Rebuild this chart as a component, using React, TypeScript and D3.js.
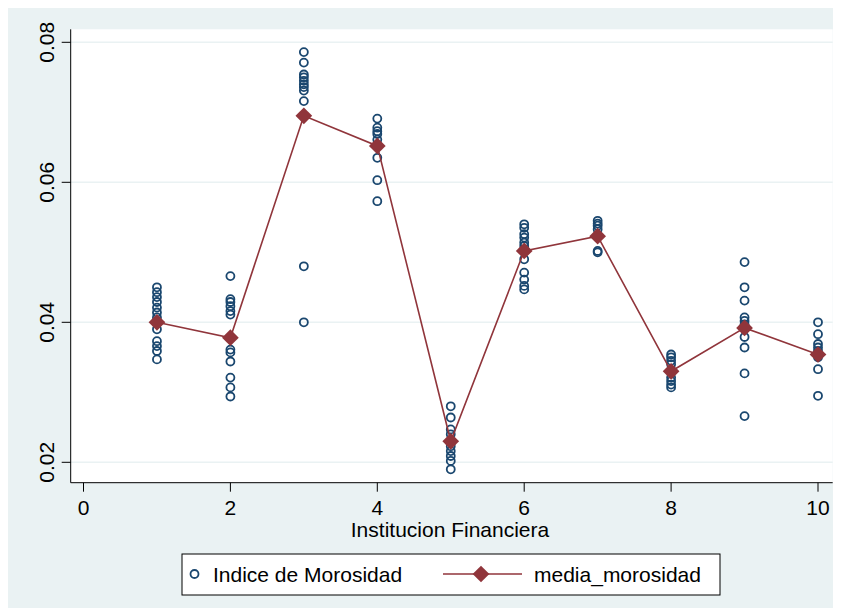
import React from "react";
import { scaleLinear, line, symbol, symbolSquare } from "d3";

// indice de morosidad observado, una fila por institucion (1..10)
const instituciones = [1, 2, 3, 4, 5, 6, 7, 8, 9, 10];
const indiceMorosidad = [
  [0.045, 0.0443, 0.0436, 0.0429, 0.0421, 0.0414, 0.0407, 0.039, 0.0373, 0.0366, 0.0359, 0.0347],
  [0.0466, 0.0433, 0.0429, 0.0423, 0.0416, 0.0411, 0.0361, 0.0357, 0.0344, 0.0321, 0.0307, 0.0294],
  [0.0786, 0.0771, 0.0754, 0.075, 0.0745, 0.074, 0.0736, 0.0731, 0.0716, 0.048, 0.04],
  [0.0691, 0.0678, 0.0673, 0.0669, 0.0661, 0.0652, 0.0635, 0.0603, 0.0573],
  [0.028, 0.0264, 0.0247, 0.024, 0.023, 0.0223, 0.0216, 0.0209, 0.0202, 0.019],
  [0.054, 0.0535, 0.0526, 0.0521, 0.0514, 0.0509, 0.0502, 0.049, 0.0471, 0.0461, 0.0452, 0.0447],
  [0.0545, 0.0541, 0.0538, 0.0533, 0.0523, 0.0502, 0.05],
  [0.0354, 0.035, 0.0345, 0.034, 0.033, 0.0321, 0.0316, 0.0311, 0.0307],
  [0.0486, 0.045, 0.0431, 0.0407, 0.0402, 0.0397, 0.0379, 0.0364, 0.0327, 0.0266],
  [0.04, 0.0383, 0.0369, 0.0364, 0.0359, 0.0354, 0.035, 0.0333, 0.0295],
];
const mediaMorosidad = [0.04, 0.0378, 0.0695, 0.0652, 0.023, 0.0502, 0.0523, 0.033, 0.0392, 0.0354];

const xTicks = [0, 2, 4, 6, 8, 10];
const yTicks = [0.02, 0.04, 0.06, 0.08];

const BG = "#eaf2f3";
const NAVY = "#1a476f";
const MAROON = "#90353b";
const FONT = "'Liberation Sans', Arial, sans-serif";

export default function App() {
  // page coordinates (svg sits at the 8px body margin)
  const plot = { left: 70.7, right: 832.7, top: 29.3, bottom: 482.7 };

  const x = scaleLinear().domain([0, 10]).range([83.5, 818]);
  const y = scaleLinear().domain([0.02, 0.08]).range([462.3, 42.3]);

  const path = line<number>()
    .x((d, i) => x(instituciones[i]))
    .y((d) => y(d))(mediaMorosidad);

  // square diamond = square turned 45deg
  const diamond = symbol().type(symbolSquare).size(140)();

  const fmt = (v: number) => v.toFixed(2);

  return (
    <svg width={833} height={600} viewBox="8 8 833 600" style={{ display: "block" }}>
      <rect x={8} y={8} width={833} height={600} fill={BG} />
      <rect
        x={plot.left}
        y={plot.top}
        width={plot.right - plot.left}
        height={plot.bottom - plot.top}
        fill="#ffffff"
      />
      {/* grid */}
      {yTicks.map((t) => (
        <line key={"g" + t} x1={plot.left} x2={plot.right} y1={y(t)} y2={y(t)} stroke={BG} strokeWidth={1.6} />
      ))}

      {/* axes */}
      <line x1={plot.left} x2={plot.left} y1={plot.top} y2={plot.bottom} stroke="#000" strokeWidth={1} />
      <line x1={plot.left} x2={plot.right} y1={plot.bottom} y2={plot.bottom} stroke="#000" strokeWidth={1} />
      {yTicks.map((t) => (
        <g key={"y" + t}>
          <line x1={plot.left - 9} x2={plot.left} y1={y(t)} y2={y(t)} stroke="#000" strokeWidth={1} />
          <text
            transform={`translate(53.5,${y(t)}) rotate(-90)`}
            textAnchor="middle"
            fontFamily={FONT}
            fontSize={21}
            fill="#000"
          >
            {fmt(t)}
          </text>
        </g>
      ))}
      {xTicks.map((t) => (
        <g key={"x" + t}>
          <line x1={x(t)} x2={x(t)} y1={plot.bottom} y2={plot.bottom + 9} stroke="#000" strokeWidth={1} />
          <text x={x(t)} y={515} textAnchor="middle" fontFamily={FONT} fontSize={21} fill="#000">
            {t}
          </text>
        </g>
      ))}
      <text x={450} y={536.5} textAnchor="middle" fontFamily={FONT} fontSize={21} fill="#000">
        Institucion Financiera
      </text>

      {/* scatter */}
      {indiceMorosidad.map((vals, i) =>
        vals.map((v, j) => (
          <circle
            key={i + "-" + j}
            cx={x(instituciones[i])}
            cy={y(v)}
            r={4}
            fill="none"
            stroke={NAVY}
            strokeWidth={1.8}
          />
        ))
      )}

      {/* media */}
      <path d={path || ""} fill="none" stroke={MAROON} strokeWidth={1.6} />
      {mediaMorosidad.map((v, i) => (
        <path
          key={"m" + i}
          d={diamond || ""}
          transform={`translate(${x(instituciones[i])},${y(v)}) rotate(45)`}
          fill={MAROON}
        />
      ))}

      {/* legend */}
      <rect x={182} y={554} width={538} height={41} fill="#ffffff" stroke="#000" strokeWidth={1} />
      <circle cx={194.5} cy={574} r={4} fill="none" stroke={NAVY} strokeWidth={1.8} />
      <text x={213} y={581.5} fontFamily={FONT} fontSize={21} fill="#000">
        Indice de Morosidad
      </text>
      <line x1={443} x2={522} y1={574} y2={574} stroke={MAROON} strokeWidth={1.6} />
      <path d={diamond || ""} transform="translate(481,574) rotate(45)" fill={MAROON} />
      <text x={534} y={581.5} fontFamily={FONT} fontSize={21} fill="#000">
        media_morosidad
      </text>
    </svg>
  );
}
